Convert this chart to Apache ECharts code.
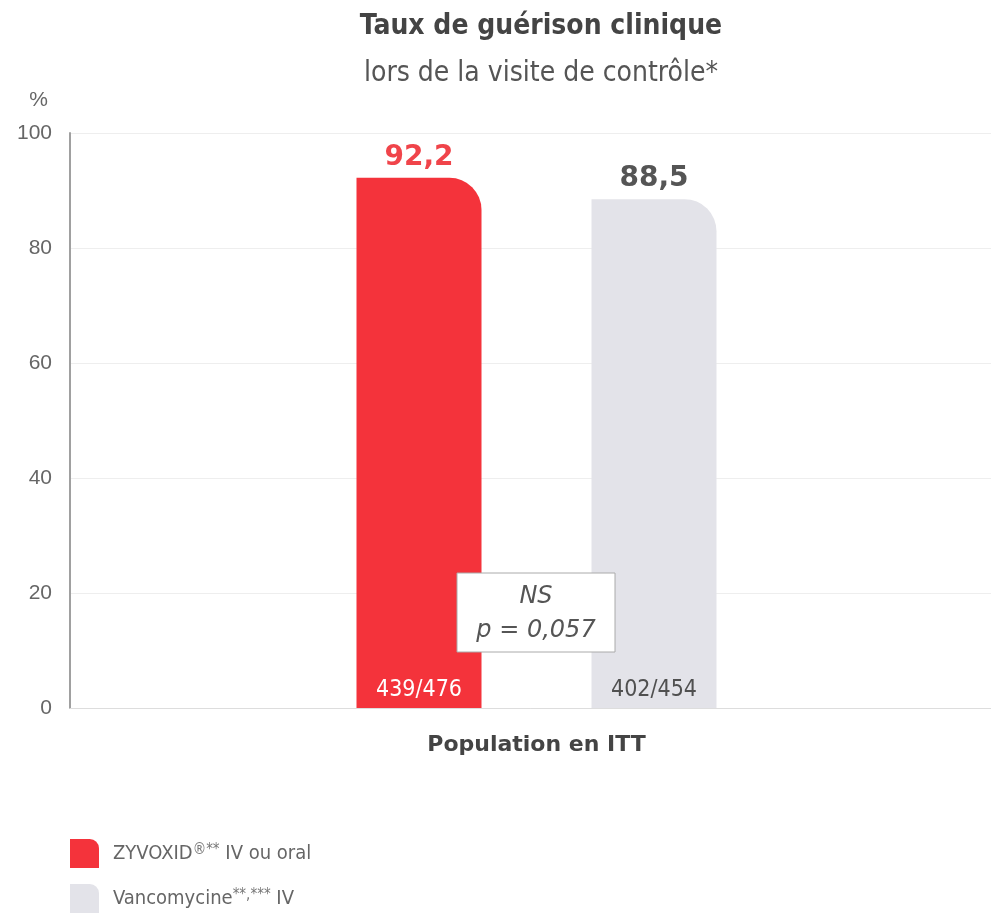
<!DOCTYPE html>
<html>
<head>
<meta charset="utf-8">
<script src="https://cdn.jsdelivr.net/npm/echarts@6/dist/echarts.min.js"></script>
<style>
  html, body { margin: 0; padding: 0; background: #fff; }
  #chart { width: 991px; height: 916px; }
</style>
</head>
<body>
<div id="chart"></div>
<script>
// values
var categories = ['Population en ITT'];
var seriesNames = ['ZYVOXID', 'Vancomycine'];
var cureRates = [92.2, 88.5];
var patientCounts = ['439/476', '402/454'];
var yTicks = [0, 20, 40, 60, 80, 100];

var colorMap = ['#f4333b', '#e3e3e9'];
var valueColors = ['#f0444a', '#555555'];
var countColors = ['#ffffff', '#505050'];

var condensed = '"Liberation Sans Narrow", "DejaVu Sans Condensed", "Roboto", sans-serif';
var wide = '"DejaVu Sans", Verdana, sans-serif';

var myChart = echarts.init(document.getElementById('chart'));

var mainSeries = seriesNames.map(function (name, i) {
    return {
        name: name,
        type: 'bar',
        xAxisIndex: 0,
        barWidth: 125,
        barGap: '88%',
        data: [cureRates[i]],
        itemStyle: { color: colorMap[i], borderRadius: [0, 32, 0, 0] },
        label: {
            show: true,
            position: 'top',
            distance: 6,
            formatter: function (p) { return String(p.value).replace('.', ','); },
            color: valueColors[i],
            fontSize: 28,
            fontWeight: 'bold',
            fontFamily: wide
        },
        z: 2
    };
});

// transparent copies on a hidden axis, only to carry the counts at the bar foot
var countSeries = seriesNames.map(function (name, i) {
    return {
        name: name + '-n',
        type: 'bar',
        xAxisIndex: 1,
        barWidth: 125,
        barGap: '88%',
        data: [cureRates[i]],
        itemStyle: { color: 'transparent' },
        label: {
            show: true,
            position: 'insideBottom',
            distance: 6,
            formatter: patientCounts[i],
            color: countColors[i],
            fontSize: 23,
            fontFamily: condensed
        },
        silent: true,
        z: 3
    };
});

myChart.setOption({
    animation: false,
    title: [{
        text: 'Taux de guérison clinique',
        left: 536, top: 8, textAlign: 'center',
        textStyle: { fontSize: 28, fontWeight: 'bold', color: '#444', fontFamily: condensed }
    }, {
        text: 'lors de la visite de contrôle*',
        left: 536, top: 55, textAlign: 'center',
        textStyle: { fontSize: 28, fontWeight: 'normal', color: '#555', fontFamily: condensed }
    }],
    // NS / p-value box between the bars
    graphic: [{
        type: 'rect',
        shape: { x: 457, y: 573, width: 158, height: 79 },
        style: { fill: '#fff', stroke: '#aaa', lineWidth: 1 },
        z: 10
    }, {
        type: 'text',
        x: 536, y: 580,
        style: {
            text: 'NS\np = 0,057',
            align: 'center',
            verticalAlign: 'top',
            lineHeight: 34,
            fontSize: 24,
            fontStyle: 'italic',
            fontFamily: wide,
            fill: '#555'
        },
        z: 11
    }],
    legend: {
        orient: 'vertical',
        left: 70, top: 839,
        padding: 0,
        itemWidth: 31, itemHeight: 29,
        itemGap: 16,
        data: seriesNames.map(function (name, i) {
            return { name: name, icon: 'path://M0,0 H68 A32,32 0 0 1 100,32 V100 H0 Z', itemStyle: { color: colorMap[i] } };
        }),
        formatter: function (name) {
            return name === 'ZYVOXID' ? 'ZYVOXID{sup|®**} IV ou oral' : 'Vancomycine{sup|**,***} IV';
        },
        textStyle: {
            color: '#666', fontSize: 20, fontFamily: condensed, padding: [0, 0, 0, 8],
            rich: { sup: { fontSize: 15, color: '#777', verticalAlign: 'top', padding: [0, 0, 7, 0], fontFamily: condensed } }
        },
        selectedMode: false
    },
    grid: { left: 70, right: -12, top: 133, bottom: 208, containLabel: false, outerBoundsMode: 'none' },
    xAxis: [{
        type: 'category',
        data: categories,
        axisTick: { show: false },
        axisLine: { lineStyle: { color: '#dddddd', width: 1 } },
        axisLabel: {
            margin: 26, fontSize: 22, fontWeight: 'bold', color: '#444',
            fontFamily: wide
        }
    }, {
        type: 'category',
        data: categories,
        show: false
    }],
    yAxis: {
        type: 'value',
        min: yTicks[0],
        max: yTicks[yTicks.length - 1],
        interval: 20,
        name: '%',
        nameLocation: 'end',
        nameGap: 22,
        nameTextStyle: { fontSize: 21, color: '#666', align: 'right', padding: [0, 22, 0, 0], fontFamily: 'Arial, sans-serif' },
        axisLine: { show: true, lineStyle: { color: '#a0a0a0', width: 2 } },
        axisTick: { show: false },
        axisLabel: { margin: 18, fontSize: 21, color: '#666', fontFamily: 'Arial, "Liberation Sans", sans-serif' },
        splitLine: { lineStyle: { color: '#eeeeee', width: 1 } }
    },
    series: mainSeries.concat(countSeries)
});
</script>
</body>
</html>
